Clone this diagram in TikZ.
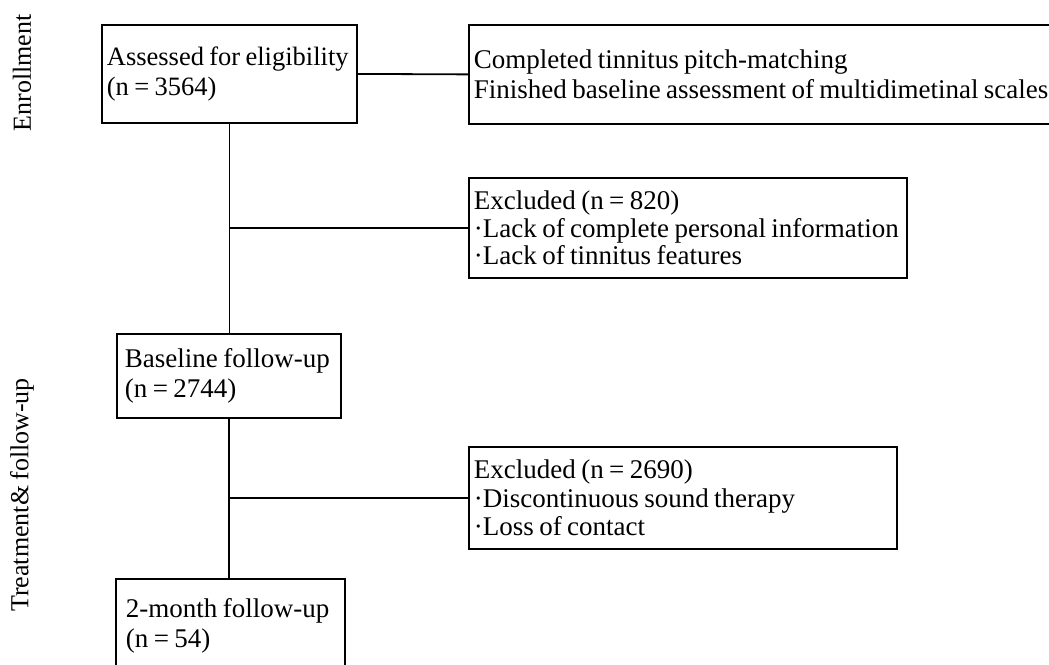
\documentclass[tikz,border=0pt]{standalone}
\usepackage{fontspec}
\setmainfont[WordSpace=0.8]{Liberation Serif}
\begin{document}
\begin{tikzpicture}[x=1pt,y=-1pt,line width=1.8pt,
  box/.style={draw,anchor=north west,align=flush left,inner xsep=#1,inner ysep=0pt,font=\fontsize{27}{30}\selectfont},
  box/.default=5pt,
  lab/.style={rotate=90,font=\fontsize{26}{30}\selectfont}]
  \useasboundingbox (0,0) rectangle (1049,664);
  \clip (0,0) rectangle (1049,664);
  \node[lab] (enroll) at (22,73) {Enrollment};
  \node[lab] (treat) at (22,495) {Treatment\& follow-up};
  \node[box=5pt,text width=245pt,minimum height=98pt,font=\fontsize{26.5}{30}\selectfont] (assess) at (101,24) {Assessed for eligibility\\(n = 3564)};
  \node[box,text width=630pt,minimum height=99pt] (pitch) at (468,24) {Completed tinnitus pitch-matching\\Finished baseline assessment of multidimetinal scales};
  \node[box,text width=428pt,minimum height=100pt,font=\fontsize{27}{27.5}\selectfont] (excl1) at (468,177) {Excluded (n = 820)\\·Lack of complete personal information\\·Lack of tinnitus features};
  \node[box=8pt,text width=208pt,minimum height=84pt] (base) at (116,333) {Baseline follow-up\\(n = 2744)};
  \node[box,text width=418pt,minimum height=102pt,font=\fontsize{27}{28.5}\selectfont] (excl2) at (468,446) {Excluded (n = 2690)\\·Discontinuous sound therapy\\·Loss of contact};
  \node[box=10pt,text width=209pt,minimum height=94pt] (month) at (115,578) {2-month follow-up\\(n = 54)};
  \draw (assess.east) -- (pitch.west);
  \draw (assess.south) -- (assess.south |- base.north);
  \draw (excl1.west -| assess.south) -- (excl1.west);
  \draw (base.south) -- (base.south |- month.north);
  \draw (excl2.west -| base.south) -- (excl2.west);
\end{tikzpicture}
\end{document}
